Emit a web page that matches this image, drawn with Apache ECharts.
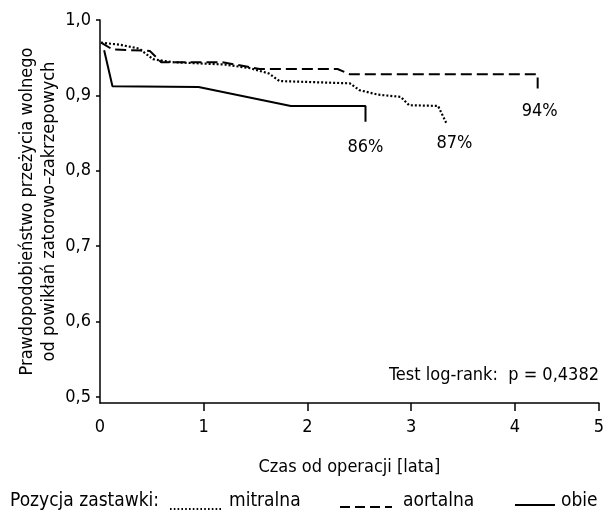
<!DOCTYPE html>
<html><head><meta charset="utf-8">
<script src="https://cdn.jsdelivr.net/npm/echarts@6/dist/echarts.min.js"></script>
<style>html,body{margin:0;padding:0;background:#fff}#c{width:607px;height:518px}</style>
</head><body><div id="c"></div>
<script>
// Data (time in years, survival probability)
const mitralnaT = [0.01, 0.20, 0.38, 0.51, 0.70, 1.20, 1.45, 1.63, 1.73, 2.41, 2.50, 2.68, 2.90, 2.98, 3.26, 3.34];
const mitralnaS = [0.970, 0.967, 0.962, 0.948, 0.944, 0.941, 0.936, 0.929, 0.919, 0.916, 0.907, 0.901, 0.898, 0.887, 0.886, 0.863];
const aortalnaT = [0.01, 0.12, 0.48, 0.59, 1.18, 1.54, 2.29, 2.41, 4.22, 4.22];
const aortalnaS = [0.970, 0.961, 0.959, 0.944, 0.944, 0.935, 0.935, 0.928, 0.928, 0.904];
const obieT = [0.04, 0.12, 0.95, 1.84, 2.56, 2.56];
const obieS = [0.960, 0.912, 0.911, 0.886, 0.886, 0.865];
const endLabels = ['87%', '94%', '86%'];
const seriesNames = ['mitralna', 'aortalna', 'obie'];
const xTickValues = [0, 1, 2, 3, 4, 4.81];
const xTickLabels = ['0', '1', '2', '3', '4', '5'];
const yTickValues = [0.5, 0.6, 0.7, 0.8, 0.9, 1.0];
const yTickLabels = ['0,5', '0,6', '0,7', '0,8', '0,9', '1,0'];
const pText = 'Test log-rank:  p = 0,4382';

const FONT = '"Liberation Sans Narrow", "Arial Narrow", "DejaVu Sans Condensed", sans-serif';
const zip = (a, b) => a.map((v, i) => [v, b[i]]);
const labelOffsets = [[8, 20], [2, 19], [0, 26]];
const lineTypes = [[2, 2], [11, 5], 'solid'];
const allData = [zip(mitralnaT, mitralnaS), zip(aortalnaT, aortalnaS), zip(obieT, obieS)];

const chart = echarts.init(document.getElementById('c'), null, {renderer: 'canvas'});
const LF = '19px ' + FONT;
const option = {
  animation: false,
  backgroundColor: '#fff',
  textStyle: {fontFamily: FONT, color: '#000'},
  grid: {left: 100, right: 8, top: 20, bottom: 115, containLabel: false},
  xAxis: {
    type: 'value', min: 0, max: 4.81,
    name: 'Czas od operacji [lata]', nameLocation: 'middle', nameGap: 55, nameMoveOverlap: false,
    nameTextStyle: {fontFamily: FONT, fontSize: 18, color: '#000'},
    axisLine: {show: true, lineStyle: {color: '#000', width: 1.5}},
    axisTick: {show: true, length: 8, lineStyle: {color: '#000', width: 1.5}, customValues: xTickValues.slice(1)},
    axisLabel: {fontFamily: FONT, fontSize: 18, color: '#000', margin: 15,
      customValues: xTickValues,
      formatter: v => xTickLabels[xTickValues.findIndex(t => Math.abs(t - v) < 1e-6)]},
    splitLine: {show: false}
  },
  yAxis: {
    type: 'value', min: 0.492, max: 1.0,
    name: 'Prawdopodobieństwo przeżycia wolnego\nod powikłań zatorowo–zakrzepowych',
    nameLocation: 'middle', nameGap: 40, nameRotate: 90, nameMoveOverlap: false,
    nameTextStyle: {fontFamily: FONT, fontSize: 18, color: '#000', lineHeight: 22, align: 'center'},
    axisLine: {show: true, lineStyle: {color: '#000', width: 1.5}},
    axisTick: {show: true, length: 4, lineStyle: {color: '#000', width: 1.5}, customValues: yTickValues},
    axisLabel: {fontFamily: FONT, fontSize: 18, color: '#000', margin: 9,
      customValues: yTickValues,
      formatter: v => yTickLabels[yTickValues.findIndex(t => Math.abs(t - v) < 1e-6)]},
    splitLine: {show: false}
  },
  series: allData.map((d, i) => ({
    name: seriesNames[i], type: 'line', data: d, showSymbol: false, symbol: 'none',
    lineStyle: {color: '#000', width: i === 0 ? 2.2 : 2, type: lineTypes[i]},
    z: 3 - i,
    markPoint: {
      symbol: 'rect', symbolSize: 1, itemStyle: {color: 'rgba(0,0,0,0)'},
      label: {show: true, position: 'inside', offset: labelOffsets[i], formatter: endLabels[i],
        fontFamily: FONT, fontSize: 18, color: '#000'},
      data: [{coord: d[d.length - 1], value: endLabels[i]}]
    }
  })),
  graphic: [
    {type: 'text', right: 8, top: 366, style: {text: pText, font: '18px ' + FONT, fill: '#000'}},
    {type: 'text', left: 10, top: 492, style: {text: 'Pozycja zastawki:', font: LF, fill: '#000'}},
    {type: 'line', shape: {x1: 170, y1: 509, x2: 222, y2: 509}, style: {stroke: '#000', lineWidth: 2, lineDash: [1.6, 2.2]}},
    {type: 'text', left: 229, top: 492, style: {text: seriesNames[0], font: LF, fill: '#000'}},
    {type: 'line', shape: {x1: 340, y1: 507, x2: 392, y2: 507}, style: {stroke: '#000', lineWidth: 2, lineDash: [10, 5]}},
    {type: 'text', left: 403, top: 492, style: {text: seriesNames[1], font: LF, fill: '#000'}},
    {type: 'line', shape: {x1: 515, y1: 505, x2: 555, y2: 505}, style: {stroke: '#000', lineWidth: 2}},
    {type: 'text', left: 561, top: 492, style: {text: seriesNames[2], font: LF, fill: '#000'}}
  ]
};
chart.setOption(option);
</script></body></html>
